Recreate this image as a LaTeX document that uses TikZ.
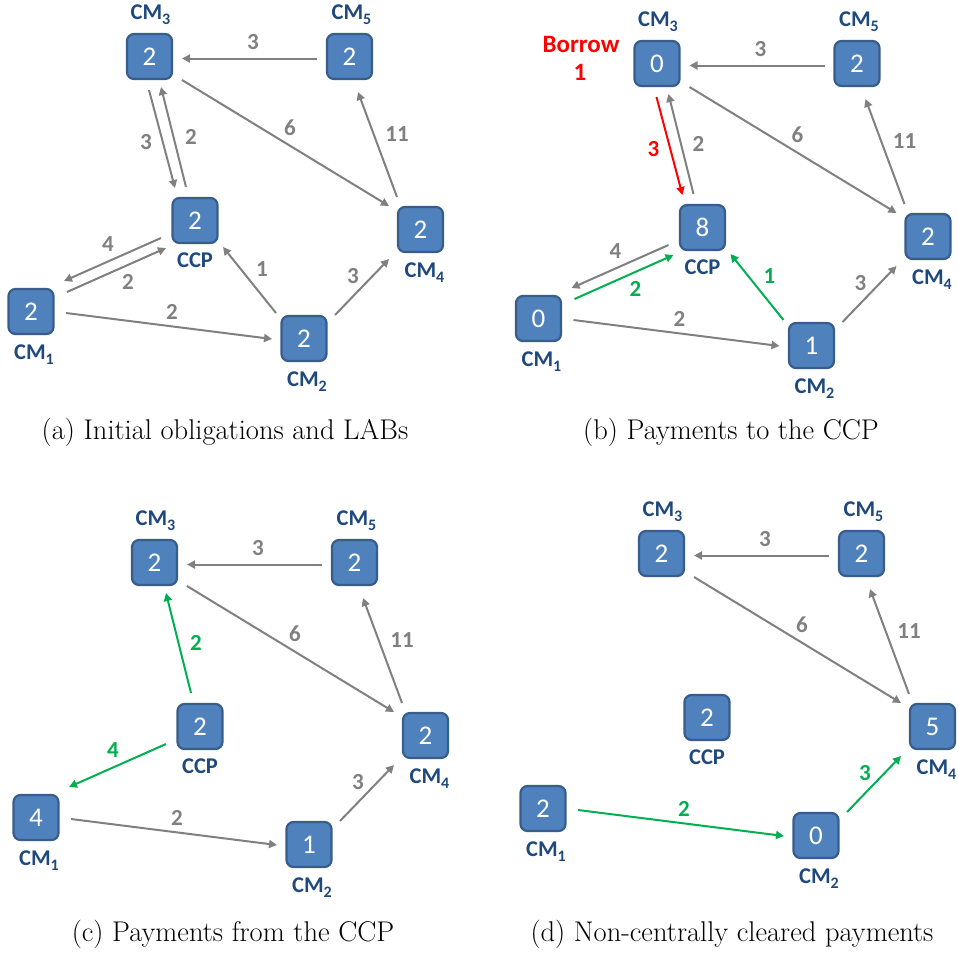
\documentclass[tikz,border=0pt]{standalone}
\usepackage{fontspec}
\newfontfamily\carl{Carlito}
\usetikzlibrary{arrows.meta,calc}
\definecolor{boxfill}{HTML}{4F81BD}
\definecolor{boxline}{HTML}{385D8A}
\definecolor{labblue}{HTML}{1F497D}
\definecolor{egray}{HTML}{808080}
\definecolor{egreen}{HTML}{00B050}
\definecolor{ered}{HTML}{FF0000}
\newcommand\cmsb[1]{CM\raisebox{-5pt}{\fontsize{16}{16}\selectfont #1}}
\newcommand\mknodes[7]{%
  \node[box] (#1cm3) at (149.5,56.5) {#2};
  \node[box] (#1cm5) at (349.5,56.5) {#3};
  \node[box] (#1ccp) at (195,220.5) {#4};
  \node[box] (#1cm4) at (420.5,229.5) {#5};
  \node[box] (#1cm1) at (31,311.5) {#6};
  \node[box] (#1cm2) at (304,338.5) {#7};
  \node[lab] (#1l3) at ($(#1cm3.north)+(1,-13.5)$) {\cmsb{3}};
  \node[lab] (#1l5) at ($(#1cm5.north)+(2,-13.5)$) {\cmsb{5}};
  \node[lab] (#1lc) at ($(#1ccp.south)+(0,23.5)$) {CCP};
  \node[lab] (#1l4) at ($(#1cm4.south)+(4,24.5)$) {\cmsb{4}};
  \node[lab] (#1l1) at ($(#1cm1.south)+(3,24)$) {\cmsb{1}};
  \node[lab] (#1l2) at ($(#1cm2.south)+(3,24)$) {\cmsb{2}};
}
\begin{document}
\begin{tikzpicture}[x=1pt,y=-1pt,
  box/.style={draw=boxline, fill=boxfill, line width=2.2pt, rounded corners=7pt,
    minimum size=45pt, inner sep=0pt, text=white, font=\carl\fontsize{27}{27}\selectfont},
  lab/.style={text=labblue, anchor=base, inner sep=0pt, font=\carl\bfseries\fontsize{22.5}{22.5}\selectfont},
  edge/.style={draw=egray, line width=2pt, -{Triangle[length=8pt,width=8pt]}},
  gedge/.style={edge, draw=egreen},
  redge/.style={edge, draw=ered},
  elab/.style={text=egray, inner sep=0pt, font=\carl\bfseries\fontsize{23}{23}\selectfont},
  glab/.style={elab, text=egreen},
  rlab/.style={elab, text=ered},
  capt/.style={font=\fontsize{28.5}{32}\selectfont, inner sep=0pt, anchor=base},
]
\useasboundingbox (0,0) rectangle (958,954);

% ---------------- panel (a)
\begin{scope}
\mknodes{a}{2}{2}{2}{2}{2}{2}
\draw[edge] ($(acm5)+(-32.5,2)$) -- ($(acm3)+(32.5,2)$);
\draw[edge] ($(acm3)+(-0.5,33.5)$) -- ($(accp)+(-20,-32.5)$);
\draw[edge] ($(accp)+(-9,-33.5)$) -- ($(acm3)+(11.5,30.5)$);
\draw[edge] ($(acm3)+(32.5,23.5)$) -- ($(acm4)+(-31.5,-23.5)$);
\draw[edge] ($(acm4)+(-23.5,-32.5)$) -- ($(acm5)+(8.5,35.5)$);
\draw[edge] ($(accp)+(-34,17.5)$) -- ($(acm1)+(33,-30.5)$);
\draw[edge] ($(acm1)+(36,-19.5)$) -- ($(accp)+(-29,27.5)$);
\draw[edge] ($(acm1)+(35,1.5)$) -- ($(acm2)+(-32,0.5)$);
\draw[edge] ($(acm2)+(-28,-25.5)$) -- ($(accp)+(28,26.5)$);
\draw[edge] ($(acm2)+(31,-23.5)$) -- ($(acm4)+(-31.5,29.5)$);
\node[elab] (ae1) at (253,42) {3};
\node[elab] (ae2) at (146,142) {3};
\node[elab] (ae3) at (191,137) {2};
\node[elab] (ae4) at (290,128) {6};
\node[elab] (ae5) at (397,134) {11};
\node[elab] (ae6) at (108,244) {4};
\node[elab] (ae7) at (128,282) {2};
\node[elab] (ae8) at (172,312) {2};
\node[elab] (ae9) at (262,269) {1};
\node[elab] (ae10) at (353,276) {3};
\end{scope}

% ---------------- panel (b)
\begin{scope}[shift={(507.5,7)}]
\mknodes{b}{0}{2}{8}{2}{0}{1}
\draw[edge] ($(bcm5)+(-32.5,2)$) -- ($(bcm3)+(32.5,2)$);
\draw[redge] ($(bcm3)+(-0.5,33.5)$) -- ($(bccp)+(-20,-32.5)$);
\draw[edge] ($(bccp)+(-9,-33.5)$) -- ($(bcm3)+(11.5,30.5)$);
\draw[edge] ($(bcm3)+(32.5,23.5)$) -- ($(bcm4)+(-31.5,-23.5)$);
\draw[edge] ($(bcm4)+(-23.5,-32.5)$) -- ($(bcm5)+(8.5,35.5)$);
\draw[edge] ($(bccp)+(-34,17.5)$) -- ($(bcm1)+(33,-30.5)$);
\draw[gedge] ($(bcm1)+(36,-19.5)$) -- ($(bccp)+(-29,27.5)$);
\draw[edge] ($(bcm1)+(35,1.5)$) -- ($(bcm2)+(-32,0.5)$);
\draw[gedge] ($(bcm2)+(-28,-25.5)$) -- ($(bccp)+(28,26.5)$);
\draw[edge] ($(bcm2)+(31,-23.5)$) -- ($(bcm4)+(-31.5,29.5)$);
\node[elab] (be1) at (253,42) {3};
\node[rlab] (be2) at (146,142) {3};
\node[elab] (be3) at (191,137) {2};
\node[elab] (be4) at (290,128) {6};
\node[elab] (be5) at (397,134) {11};
\node[elab] (be6) at (108,244) {4};
\node[glab] (be7) at (128,282) {2};
\node[elab] (be8) at (172,312) {2};
\node[glab] (be9) at (262,269) {1};
\node[elab] (be10) at (353,276) {3};
\node[rlab, font=\carl\bfseries\fontsize{25}{25}\selectfont] (bbor) at (73.5,37) {Borrow};
\node[rlab, font=\carl\bfseries\fontsize{25}{25}\selectfont] (bbor1) at (72.5,65) {1};
\end{scope}

% ---------------- panel (c)
\begin{scope}[shift={(5,506)}]
\mknodes{c}{2}{2}{2}{2}{4}{1}
\draw[edge] ($(ccm5)+(-32.5,2)$) -- ($(ccm3)+(32.5,2)$);
\draw[gedge] ($(cccp)+(-9,-33.5)$) -- ($(ccm3)+(11.5,30.5)$);
\draw[edge] ($(ccm3)+(32.5,23.5)$) -- ($(ccm4)+(-31.5,-23.5)$);
\draw[edge] ($(ccm4)+(-23.5,-32.5)$) -- ($(ccm5)+(8.5,35.5)$);
\draw[gedge] ($(cccp)+(-34,17.5)$) -- ($(ccm1)+(33,-30.5)$);
\draw[edge] ($(ccm1)+(35,1.5)$) -- ($(ccm2)+(-32,0.5)$);
\draw[edge] ($(ccm2)+(31,-23.5)$) -- ($(ccm4)+(-31.5,29.5)$);
\node[elab] (ce1) at (253,42) {3};
\node[glab] (ce3) at (191,137) {2};
\node[elab] (ce4) at (290,128) {6};
\node[elab] (ce5) at (397,134) {11};
\node[glab] (ce6) at (108,244) {4};
\node[elab] (ce8) at (172,312) {2};
\node[elab] (ce10) at (353,276) {3};
\end{scope}

% ---------------- panel (d)
\begin{scope}[shift={(512,497)}]
\mknodes{d}{2}{2}{2}{5}{2}{0}
\draw[edge] ($(dcm5)+(-32.5,2)$) -- ($(dcm3)+(32.5,2)$);
\draw[edge] ($(dcm3)+(32.5,23.5)$) -- ($(dcm4)+(-31.5,-23.5)$);
\draw[edge] ($(dcm4)+(-23.5,-32.5)$) -- ($(dcm5)+(8.5,35.5)$);
\draw[gedge] ($(dcm1)+(35,1.5)$) -- ($(dcm2)+(-32,0.5)$);
\draw[gedge] ($(dcm2)+(31,-23.5)$) -- ($(dcm4)+(-31.5,29.5)$);
\node[elab] (de1) at (253,42) {3};
\node[elab] (de4) at (290,128) {6};
\node[elab] (de5) at (397,134) {11};
\node[glab] (de8) at (172,312) {2};
\node[glab] (de10) at (353,276) {3};
\end{scope}

% ---------------- captions
\node[capt] (capa) at (225,439) {(a) Initial obligations and LABs};
\node[capt] (capb) at (731,439) {(b) Payments to the CCP};
\node[capt] (capc) at (233,941) {(c) Payments from the CCP};
\node[capt] (capd) at (732,941) {(d) Non-centrally cleared payments};
\end{tikzpicture}
\end{document}
